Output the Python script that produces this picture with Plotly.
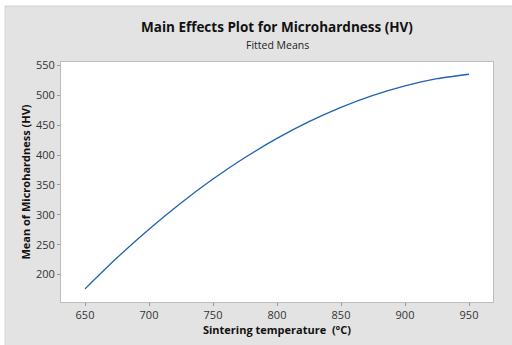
import plotly.graph_objects as go

temperature = [650, 675, 700, 725, 750, 775, 800, 825, 850, 875, 900, 925, 950]
microhardness = [176, 228, 276, 320, 360, 396, 428, 456, 480, 500, 516, 528, 535.5]

x_ticks = [650, 700, 750, 800, 850, 900, 950]
y_ticks = [200, 250, 300, 350, 400, 450, 500, 550]

title_text = "Main Effects Plot for Microhardness (HV)"
subtitle_text = "Fitted Means"
x_title = "Sintering temperature  (°C)"
y_title = "Mean of Microhardness (HV)"

FONT = "Open Sans, Noto Sans, sans-serif"

W, H = 512, 345
L, R, T, B = 61, 19, 62, 43
pw, ph = W - L - R, H - T - B


def px_x(p):
    return (p - L) / pw


def px_y(p):
    return (H - B - p) / ph


fig = go.Figure()
fig.add_trace(go.Scatter(
    x=temperature, y=microhardness, mode="lines",
    line=dict(color="#1f62b0", width=1.3, shape="spline", smoothing=0.6),
    hoverinfo="skip", showlegend=False,
))

fig.update_layout(
    width=W, height=H,
    margin=dict(l=L, r=R, t=T, b=B),
    paper_bgcolor="white",
    plot_bgcolor="white",
    font=dict(family=FONT, size=11, color="#333333"),
    shapes=[
        dict(type="rect", xref="paper", yref="paper", layer="below",
             x0=px_x(5), x1=px_x(513), y0=px_y(346), y1=px_y(6),
             fillcolor="#e3e3e3", line=dict(color="#d2d2d2", width=1)),
        dict(type="rect", xref="paper", yref="paper", layer="below",
             x0=0, x1=1, y0=0, y1=1,
             fillcolor="white", line=dict(width=0)),
    ],
    annotations=[
        dict(text="<b>" + title_text + "</b>", xref="paper", yref="paper",
             x=0.5, y=px_y(27.5), xanchor="center", yanchor="middle",
             showarrow=False, font=dict(family=FONT, size=13.5, color="#111111")),
        dict(text=subtitle_text, xref="paper", yref="paper",
             x=0.5, y=px_y(45), xanchor="center", yanchor="middle",
             showarrow=False, font=dict(family=FONT, size=10.5, color="#222222")),
    ],
)

fig.update_xaxes(
    range=[631.25, 968.75], tickvals=x_ticks, ticktext=[str(v) for v in x_ticks],
    showgrid=False, zeroline=False,
    showline=True, linecolor="#bdbdbd", linewidth=1, mirror=True,
    ticks="outside", ticklen=3, tickcolor="#9a9a9a",
    tickfont=dict(family=FONT, size=11, color="#333333"),
    title=dict(text="<b>" + x_title + "</b>", standoff=3,
               font=dict(family=FONT, size=11, color="#111111")),
)
fig.update_yaxes(
    range=[154, 556], tickvals=y_ticks, ticktext=[str(v) for v in y_ticks],
    showgrid=False, zeroline=False,
    showline=True, linecolor="#bdbdbd", linewidth=1, mirror=True,
    ticks="outside", ticklen=3, tickcolor="#9a9a9a",
    tickfont=dict(family=FONT, size=11, color="#333333"),
    title=dict(text="<b>" + y_title + "</b>", standoff=3,
               font=dict(family=FONT, size=11, color="#111111")),
)

fig.write_html("out.html")
